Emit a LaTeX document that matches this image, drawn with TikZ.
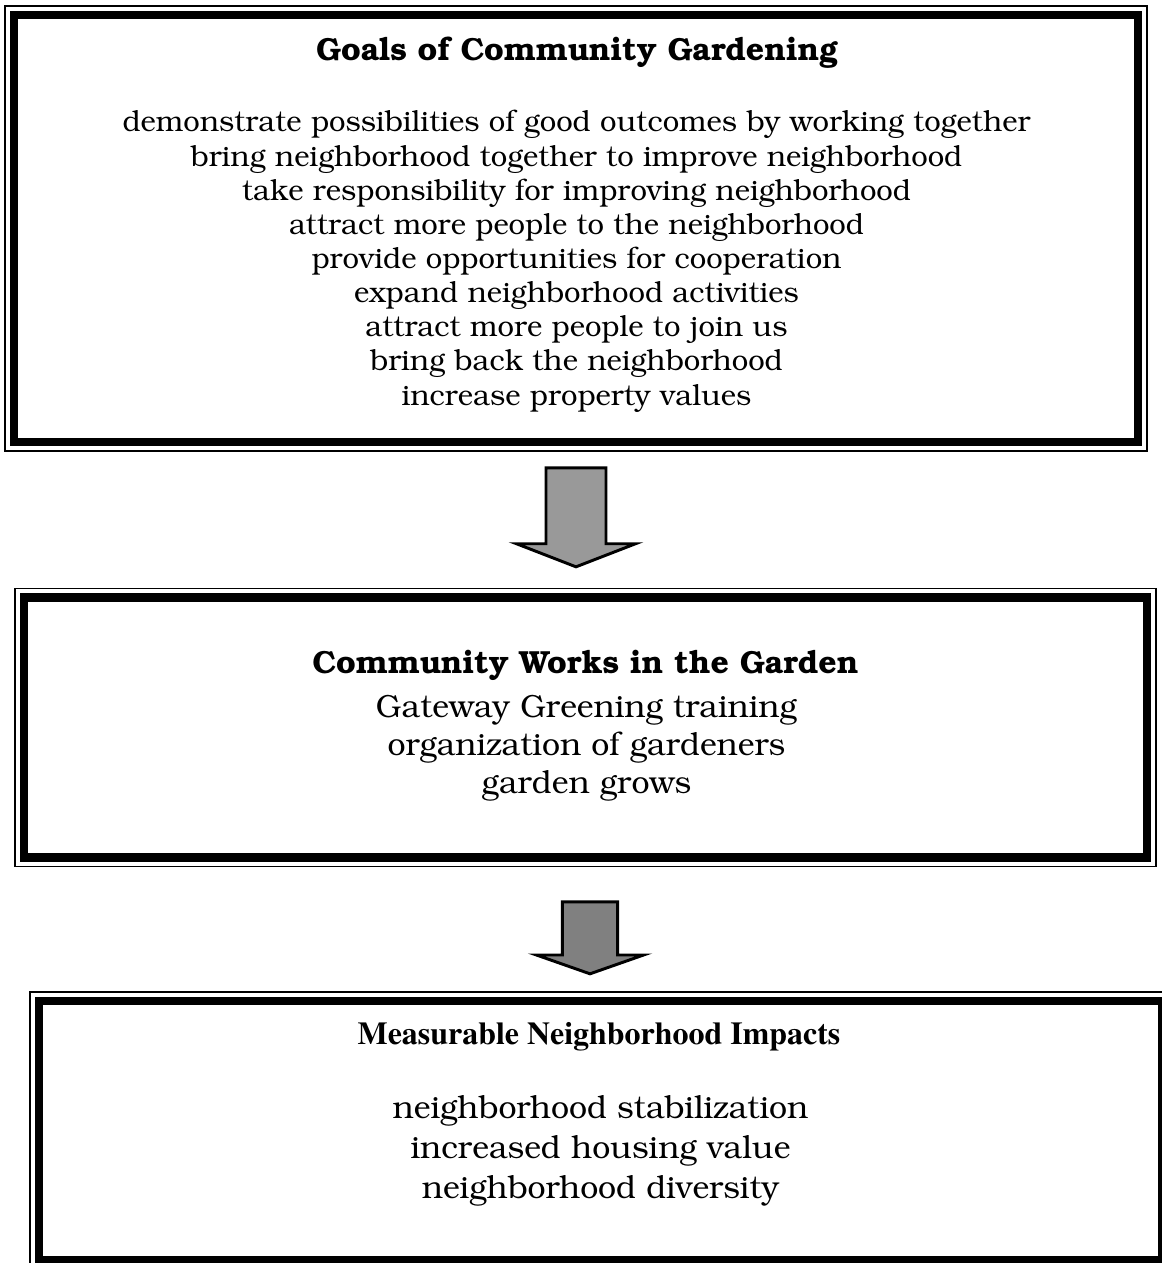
\documentclass[tikz,border=0pt]{standalone}
\usepackage[T1]{fontenc}
\usepackage{bookman}
\usepackage{tikz}
\usetikzlibrary{shapes.arrows,positioning}

\begin{document}
\begin{tikzpicture}[
    x=0.41pt,y=-0.41pt,
    frame/.style={draw=black,line width=3.3pt,fill=white,inner sep=0pt,outer sep=0pt},
    outerline/.style={draw=black,line width=0.6pt},
    head/.style={font=\fontsize{13.1}{15}\selectfont\bfseries},
    items/.style={align=center,font=\fontsize{12}{14}\selectfont},
    bigitems/.style={align=center,font=\fontsize{13.15}{15.6}\selectfont},
    blockarrow/.style={single arrow,shape border rotate=270,draw=black,line width=1.2pt,
      single arrow head indent=0pt}
  ]
    \useasboundingbox (0,0) rectangle (1162,1263);

    % three framed boxes
    \node[frame,minimum width=460.8pt,minimum height=175.1pt] (goals) at (576,228.5) {};
    \node[frame,minimum width=460.4pt,minimum height=106.6pt] (works) at (585.5,727.5) {};
    \node[frame,minimum width=460.4pt,minimum height=106.2pt] (impacts) at (600.5,1130.5) {};
    \foreach \b in {goals,works,impacts}
      \draw[outerline] ([shift={(-9,-9)}]\b.north west) rectangle ([shift={(9,9)}]\b.south east);

    % texts
    \node[head] (goalstitle) at (577,52) {Goals of Community Gardening};
    \node[items] (goalslist) at (576.5,261) {demonstrate possibilities of good outcomes by working together\\
      bring neighborhood together to improve neighborhood\\
      take responsibility for improving neighborhood\\
      attract more people to the neighborhood\\
      provide opportunities for cooperation\\
      expand neighborhood activities\\
      attract more people to join us\\
      bring back the neighborhood\\
      increase property values};

    \node[head] (workstitle) at (585.5,666) {Community Works in the Garden};
    \node[bigitems] (workslist) at (586.5,748) {Gateway Greening training\\
      organization of gardeners\\
      garden grows};

    \node[head,font=\fontsize{13.1}{15}\fontfamily{ptm}\selectfont\bfseries] (impactstitle) at (599,1037) {Measurable Neighborhood Impacts};
    \node[bigitems,font=\fontsize{13.15}{16.4}\selectfont] (impactslist) at (600.5,1151) {neighborhood stabilization\\
      increased housing value\\
      neighborhood diversity};

    % block arrows between the boxes
    \node[blockarrow,fill=black!40,inner sep=11.7pt,minimum height=40.6pt,
      single arrow head extend=12.1pt,single arrow tip angle=137.6] (arrowA) at (576,511.5) {};
    \node[blockarrow,fill=black!50,inner sep=10.7pt,minimum height=29.5pt,
      single arrow head extend=10.7pt,single arrow tip angle=141.3] (arrowB) at (590,933) {};
  \end{tikzpicture}
\end{document}
